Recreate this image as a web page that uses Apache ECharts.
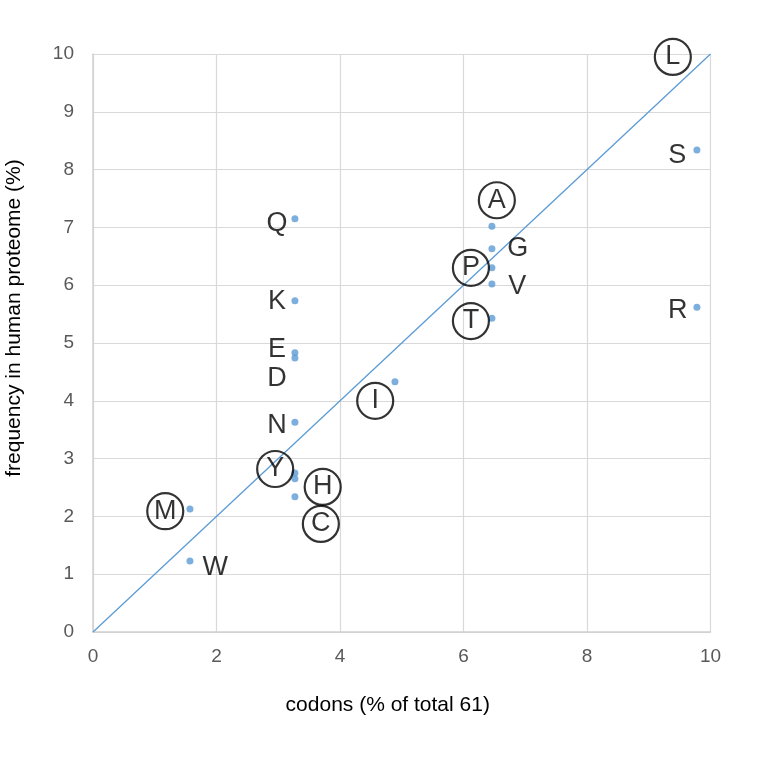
<!DOCTYPE html>
<html>
<head>
<meta charset="utf-8">
<script src="https://cdn.jsdelivr.net/npm/echarts@6/dist/echarts.min.js"></script>
<style>html,body{margin:0;padding:0;background:#fff;}#c{width:759px;height:766px;}</style>
</head>
<body>
<div id="c"></div>
<script>
// Data points (codons %, frequency %)
const pointX = [9.78, 9.78, 9.78, 6.46, 6.46, 6.46, 6.46, 6.46, 4.89, 3.27, 3.27, 3.27, 3.27, 3.27, 3.27, 3.27, 3.27, 1.57, 1.57];
const pointY = [10.02, 8.34, 5.62, 7.02, 6.63, 6.30, 6.02, 5.43, 4.33, 7.15, 5.73, 4.83, 4.74, 3.63, 2.75, 2.65, 2.34, 2.13, 1.23];

// Letter labels
const labelText   = ['L','S','A','Q','G','P','V','K','R','T','E','D','I','N','Y','H','C','M','W'];
const labelX      = [9.39, 9.46, 6.54, 2.98, 6.88, 6.12, 6.87, 2.98, 9.47, 6.12, 2.98, 2.98, 4.57, 2.98, 2.95, 3.72, 3.69, 1.17, 1.98];
const labelY      = [9.95, 8.25, 7.47, 7.06, 6.64, 6.30, 5.97, 5.71, 5.57, 5.38, 4.88, 4.39, 4.00, 3.58, 2.82, 2.51, 1.87, 2.09, 1.12];
const labelCircled= [1, 0, 1, 0, 0, 1, 0, 0, 0, 1, 0, 0, 1, 0, 1, 1, 1, 1, 0];

// Axis ticks
const xTicks = {min: 0, max: 10, interval: 2};
const yTicks = {min: 0, max: 10, interval: 1};

const circledData = [], plainData = [];
labelText.forEach((t, i) => {
  const d = {value: [labelX[i], labelY[i]], name: t};
  (labelCircled[i] ? circledData : plainData).push(d);
});

const FONT = 'Liberation Sans, Arial, sans-serif';
const chart = echarts.init(document.getElementById('c'));
const labelStyle = {
  show: true, position: 'inside', formatter: p => p.name,
  color: '#000', fontSize: 27, fontFamily: FONT, textBorderWidth: 0
};
chart.setOption({
  animation: false,
  grid: {left: 93, right: 48.5, top: 54, bottom: 134, containLabel: false, outerBoundsMode: 'none'},
  xAxis: {
    type: 'value', min: xTicks.min, max: xTicks.max, interval: xTicks.interval,
    name: 'codons (% of total 61)', nameLocation: 'middle', nameGap: 63,
    nameTextStyle: {color: '#000', fontSize: 21, fontFamily: FONT, padding: [0, 28, 0, 0]},
    axisLine: {show: true, lineStyle: {color: '#d0d0d0', width: 1.5}},
    axisTick: {show: false},
    axisLabel: {color: '#595959', fontSize: 19, margin: 15, fontFamily: FONT},
    splitLine: {show: true, lineStyle: {color: '#d9d9d9', width: 1.2}}
  },
  yAxis: {
    type: 'value', min: yTicks.min, max: yTicks.max, interval: yTicks.interval,
    name: 'frequency in human proteome (%)', nameLocation: 'middle', nameGap: 68,
    nameTextStyle: {color: '#000', fontSize: 21, fontFamily: FONT, padding: [0, 0, 0, 50]},
    axisLine: {show: true, lineStyle: {color: '#d0d0d0', width: 1.5}},
    axisTick: {show: false},
    axisLabel: {color: '#595959', fontSize: 19, margin: 19, fontFamily: FONT},
    splitLine: {show: true, lineStyle: {color: '#d9d9d9', width: 1.2}}
  },
  series: [
    {
      type: 'line', data: [[0, 0], [10, 10]], symbol: 'none',
      lineStyle: {color: '#5B9BD5', width: 1.3}, silent: true, z: 2
    },
    {
      type: 'scatter', data: pointX.map((x, i) => [x, pointY[i]]),
      symbolSize: 7, itemStyle: {color: '#5B9BD5'}, z: 3
    },
    {
      type: 'scatter', data: circledData, symbol: 'circle', symbolSize: 36,
      itemStyle: {color: 'rgba(0,0,0,0)', borderColor: '#000', borderWidth: 2.2},
      label: labelStyle, z: 4
    },
    {
      type: 'scatter', data: plainData, symbol: 'circle', symbolSize: 2,
      itemStyle: {color: 'rgba(0,0,0,0)'},
      label: labelStyle, z: 4
    }
  ]
});
</script>
</body>
</html>
